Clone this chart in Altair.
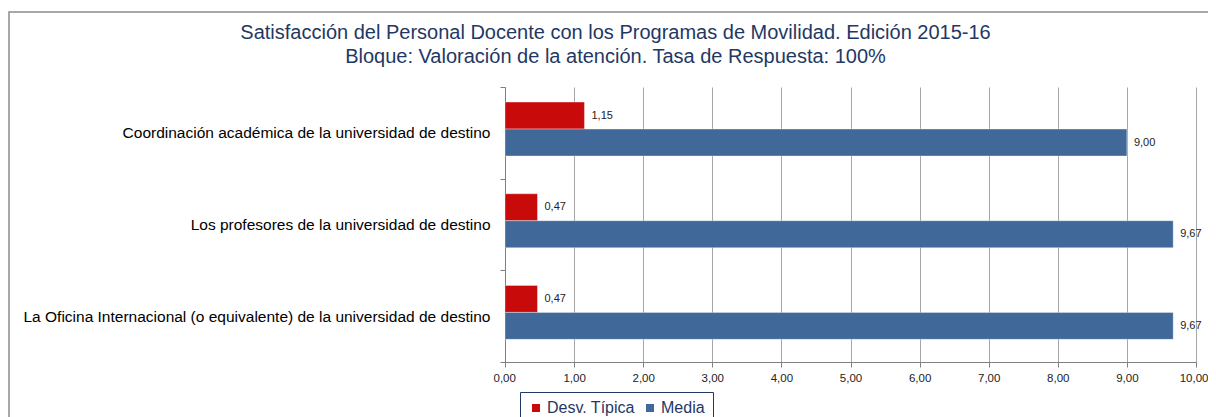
import altair as alt
import pandas as pd

categories = [
    "Coordinación académica de la universidad de destino",
    "Los profesores de la universidad de destino",
    "La Oficina Internacional (o equivalente) de la universidad de destino",
]
series = ["Desv. Típica", "Media"]
desv = [1.15, 0.47, 0.47]
media = [9.00, 9.67, 9.67]
colors = ["#C80A0A", "#40699A"]

rows = []
for c, d, m in zip(categories, desv, media):
    rows.append({"cat": c, "serie": series[0], "valor": d})
    rows.append({"cat": c, "serie": series[1], "valor": m})
df = pd.DataFrame(rows)
df["etiqueta"] = df["valor"].map(lambda v: f"{v:.2f}".replace(".", ","))

FONT = "Liberation Sans"

y_enc = alt.Y("cat:N", sort=categories, title=None,
              scale=alt.Scale(paddingInner=0, paddingOuter=0),
              axis=alt.Axis(tickBand="extent", tickSize=5, tickColor="#808080",
                            domainColor="#808080", labelFontSize=15.5,
                            labelColor="#000000", labelPadding=10, labelFont=FONT,
                            grid=False, labelLimit=700))
yoff = alt.YOffset("serie:N", sort=series,
                   scale=alt.Scale(paddingInner=0, paddingOuter=0.7, align=0.4))
x_enc = alt.X("valor:Q", title=None,
              scale=alt.Scale(domain=[0, 10], nice=False),
              axis=alt.Axis(values=list(range(0, 11)), grid=True, gridColor="#A6A6A6",
                            tickSize=5, tickColor="#808080", domainColor="#808080",
                            labelFontSize=11.5, labelColor="#222222", labelFont=FONT,
                            labelFlush=True, labelFlushOffset=12, labelPadding=5,
                            labelExpr="replace(format(datum.value, '.2f'), '.', ',')"))

bars = alt.Chart(df).mark_bar(stroke="#FFFFFF", strokeOpacity=0.35, strokeWidth=1).encode(
    x=x_enc, y=y_enc, yOffset=yoff,
    color=alt.Color("serie:N", sort=series,
                    scale=alt.Scale(domain=series, range=colors),
                    legend=alt.Legend(title=None, orient="none", legendX=15, legendY=305,
                                      direction="horizontal", symbolType="square",
                                      symbolSize=64, symbolStrokeWidth=0,
                                      labelFontSize=16, labelColor="#1F3864", labelFont=FONT,
                                      labelOffset=3,
                                      strokeColor="#1F3864", padding=8, columnPadding=7,
                                      fillColor="#FFFFFF")),
)

labels = alt.Chart(df).mark_text(align="left", baseline="middle", dx=7,
                                 fontSize=11, font=FONT, color="#222222").encode(
    x="valor:Q", y=alt.Y("cat:N", sort=categories), yOffset=yoff, text="etiqueta:N"
)

frame = alt.Chart(pd.DataFrame({"k": [0]})).mark_rect(
    fill=None, stroke="#8C8C8C", strokeWidth=1.5).encode(
    x=alt.value(-496), x2=alt.value(760), y=alt.value(-75), y2=alt.value(360)
)

chart = alt.layer(frame, bars, labels).properties(
    width=691, height=275,
    title=alt.TitleParams(
        text=["Satisfacción del Personal Docente con los Programas de Movilidad. Edición 2015-16",
              "Bloque: Valoración de la atención. Tasa de Respuesta: 100%"],
        fontSize=20, font=FONT, fontWeight="normal", color="#1F3864",
        anchor="middle", frame="group", dx=-235, dy=76, offset=20, lineHeight=24),
    autosize=alt.AutoSizeParams(type="none"),
    padding={"left": 497, "top": 79, "right": 12, "bottom": 55},
).configure_view(stroke=None).configure_scale(bandPaddingInner=0)

chart.save("out.html", embed_options={"renderer": "svg", "actions": False})
